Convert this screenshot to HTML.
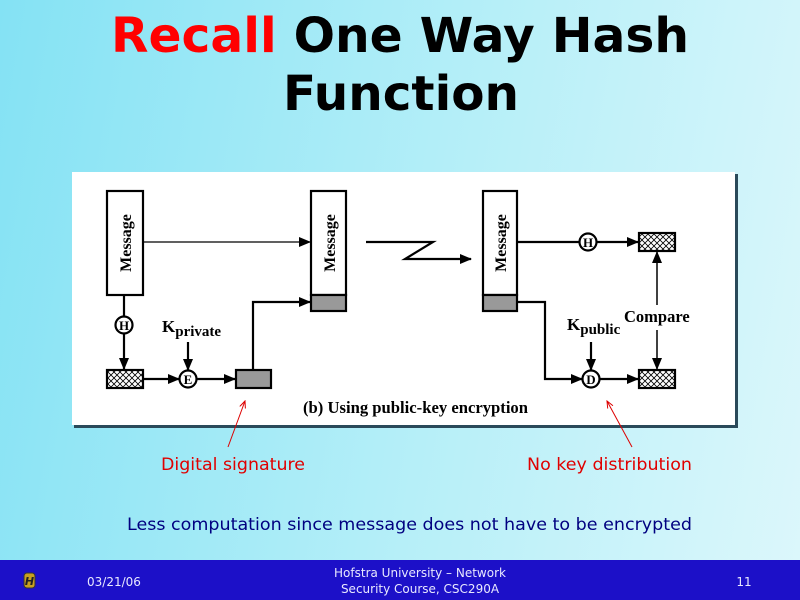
<!DOCTYPE html>
<html><head><meta charset="utf-8"><style>
html,body{margin:0;padding:0;width:800px;height:600px;overflow:hidden}
body{background:linear-gradient(100deg,#84e2f4 0%,#b6eff8 55%,#dcf7fb 100%);font-family:"DejaVu Sans","Liberation Sans",sans-serif}
</style></head><body>
<svg width="800" height="600" viewBox="0 0 800 600" xmlns="http://www.w3.org/2000/svg" style="position:absolute;left:0;top:0">
<defs>
<pattern id="hx" width="6" height="6" patternUnits="userSpaceOnUse">
<rect width="6" height="6" fill="#fff"/>
<path d="M0,0L6,6M6,0L0,6" stroke="#000" stroke-width="0.8"/>
</pattern>
<marker id="ah" markerWidth="12" markerHeight="10" refX="11" refY="5" orient="auto" markerUnits="userSpaceOnUse">
<path d="M0,0L12,5L0,10z" fill="#000"/></marker>
<marker id="ra" markerWidth="8" markerHeight="8" refX="7" refY="4" orient="auto" markerUnits="userSpaceOnUse">
<path d="M0,1L7,4L0,7" fill="none" stroke="#d00" stroke-width="1"/></marker>
</defs>
<text x="400" y="52" text-anchor="middle" font-family="DejaVu Sans" font-weight="bold" font-size="48" textLength="578" lengthAdjust="spacingAndGlyphs"><tspan fill="#f00">Recall</tspan> One Way Hash</text>
<text x="401" y="110" text-anchor="middle" font-family="DejaVu Sans" font-weight="bold" font-size="48" textLength="236" lengthAdjust="spacingAndGlyphs">Function</text>

<rect x="74" y="174" width="664" height="254" fill="#2a4a5a"/>
<rect x="72" y="172" width="663" height="253" fill="#fff"/>
<g stroke="#000" stroke-width="2.2" fill="none">
<rect x="107" y="191" width="36" height="104" fill="#fff"/>
<rect x="311" y="191" width="35" height="104" fill="#fff"/>
<rect x="311" y="295" width="35" height="16" fill="#999"/>
<rect x="483" y="191" width="34" height="104" fill="#fff"/>
<rect x="483" y="295" width="34" height="16" fill="#999"/>
<line x1="143" y1="242" x2="310" y2="242" stroke-width="1.3" marker-end="url(#ah)"/>
<line x1="124" y1="295" x2="124" y2="317"/>
<circle cx="124" cy="325" r="8.5" fill="#fff"/>
<line x1="124" y1="333" x2="124" y2="369" marker-end="url(#ah)"/>
<rect x="107" y="370" width="36" height="18" fill="url(#hx)"/>
<line x1="143" y1="379" x2="179" y2="379" marker-end="url(#ah)"/>
<circle cx="188" cy="379" r="8.5" fill="#fff"/>
<line x1="188" y1="342" x2="188" y2="370" marker-end="url(#ah)"/>
<line x1="196" y1="379" x2="235" y2="379" marker-end="url(#ah)"/>
<rect x="236" y="370" width="35" height="18" fill="#999"/>
<polyline points="253,370 253,302 310,302" marker-end="url(#ah)"/>
<polyline points="366,242 433,242 405,259 471,259" marker-end="url(#ah)"/>
<line x1="517" y1="242" x2="580" y2="242"/>
<circle cx="588" cy="242" r="8.5" fill="#fff"/>
<line x1="596" y1="242" x2="638" y2="242" marker-end="url(#ah)"/>
<rect x="639" y="233" width="36" height="18" fill="url(#hx)"/>
<polyline points="517,302 545,302 545,379 582,379" marker-end="url(#ah)"/>
<circle cx="591" cy="379" r="8.5" fill="#fff"/>
<line x1="591" y1="342" x2="591" y2="370" marker-end="url(#ah)"/>
<line x1="599" y1="379" x2="638" y2="379" marker-end="url(#ah)"/>
<rect x="639" y="370" width="36" height="18" fill="url(#hx)"/>
<line x1="657" y1="305" x2="657" y2="252" stroke-width="1.5" marker-end="url(#ah)"/>
<line x1="657" y1="330" x2="657" y2="369" stroke-width="1.5" marker-end="url(#ah)"/>
</g>
<g font-family="Liberation Serif" font-weight="bold" fill="#000">
<text transform="translate(131,243) rotate(-90)" text-anchor="middle" font-size="16">Message</text>
<text transform="translate(335,243) rotate(-90)" text-anchor="middle" font-size="16">Message</text>
<text transform="translate(506,243) rotate(-90)" text-anchor="middle" font-size="16">Message</text>
<text x="124" y="330" font-size="13" text-anchor="middle">H</text>
<text x="188" y="384" font-size="13" text-anchor="middle">E</text>
<text x="588" y="247" font-size="13" text-anchor="middle">H</text>
<text x="591" y="384" font-size="13" text-anchor="middle">D</text>
<text x="162" y="332" font-size="17">K<tspan font-size="15" dy="4">private</tspan></text>
<text x="567" y="330" font-size="17">K<tspan font-size="15" dy="4">public</tspan></text>
<text x="624" y="322" font-size="16.5">Compare</text>
<text x="303" y="413" font-size="16.5" textLength="225" lengthAdjust="spacingAndGlyphs">(b) Using public-key encryption</text>
</g>
<g stroke="#d00" stroke-width="1">
<line x1="228" y1="447" x2="245" y2="401" marker-end="url(#ra)"/>
<line x1="632" y1="447" x2="607" y2="401" marker-end="url(#ra)"/>
</g>
<g font-family="DejaVu Sans" font-size="17">
<text x="161" y="470" fill="#e00000" textLength="144" lengthAdjust="spacingAndGlyphs">Digital signature</text>
<text x="527" y="470" fill="#e00000" textLength="165" lengthAdjust="spacingAndGlyphs">No key distribution</text>
<text x="127" y="530" fill="#000080" textLength="565" lengthAdjust="spacingAndGlyphs">Less computation since message does not have to be encrypted</text>
</g>
<rect x="0" y="560" width="800" height="40" fill="#1c10c8"/>
<rect x="24" y="573" width="11" height="15" rx="3" fill="#c8a020" stroke="#333" stroke-width="1"/>
<text x="29.5" y="585" font-size="11" font-weight="bold" font-style="italic" fill="#222" text-anchor="middle">H</text>
<g fill="#e8e8ff" font-family="DejaVu Sans" font-size="12">
<text x="87" y="586">03/21/06</text>
<text x="420" y="577" text-anchor="middle">Hofstra University – Network</text>
<text x="420" y="593" text-anchor="middle">Security Course, CSC290A</text>
<text x="744" y="586" text-anchor="middle">11</text>
</g>
</svg>
</body></html>
